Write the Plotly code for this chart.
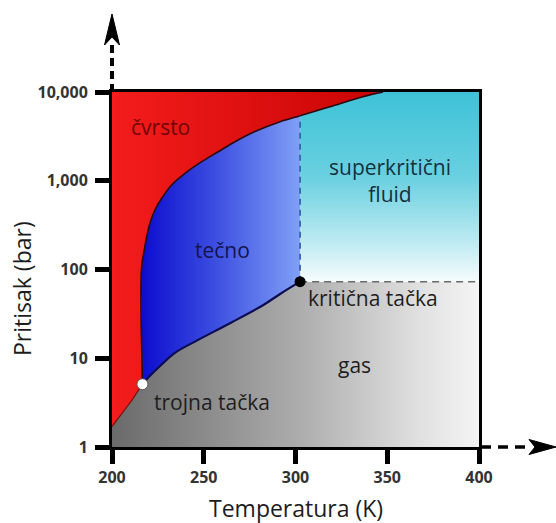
import numpy as np
import plotly.graph_objects as go

# Phase boundaries of CO2 (temperature in K, pressure in bar)
SUBL_T = [200.0, 206.0, 211.0, 216.6]
SUBL_P = [1.7, 2.5, 3.4, 5.1]

MELT_T = [216.6, 216.0, 215.8, 216.2, 217.6, 218.9, 220.7, 223.4, 227.1, 232.5,
          239.8, 248.9, 257.9, 267.0, 277.9, 291.6, 302.5, 318.8, 336.8, 347.7]
MELT_P = [5.1, 20, 60, 110, 166, 234, 332, 468, 634, 896,
          1213, 1640, 2124, 2754, 3590, 4630, 5410, 6830, 8850, 10000]

VAP_T = [216.6, 220.7, 226.2, 234.3, 246.2, 264.3, 282.5, 291.6, 302.5]
VAP_P = [5.1, 6.34, 8.18, 11.5, 15.8, 24.8, 39.8, 53.0, 72.9]

TRIPLE = (216.6, 5.1)
CRITICAL = (302.5, 72.9)

T_MIN, T_MAX = 200, 400
P_MIN, P_MAX = 1, 10000

X_TICKS = [200, 250, 300, 350, 400]
Y_TICKS = [1, 10, 100, 1000, 10000]
Y_TICK_TEXT = ["1", "10", "100", "1,000", "10,000"]

W, H = 556, 523
ML, MR, MT, MB = 112, 77, 92, 76
PW, PH = W - ML - MR, H - MT - MB

sub_t, sub_p = np.array(SUBL_T), np.array(SUBL_P)
mel_t, mel_p = np.array(MELT_T), np.array(MELT_P)
vap_t, vap_p = np.array(VAP_T), np.array(VAP_P)
k = int(np.argmin(np.abs(mel_t - CRITICAL[0])))  # melting point above the critical temperature

fig = go.Figure()


def region(xs, ys, kind, scale):
    fig.add_trace(go.Scatter(
        x=xs, y=ys, mode="lines", fill="toself", line=dict(width=0),
        fillgradient=dict(type=kind, colorscale=scale),
        hoverinfo="skip", showlegend=False))


# gas
region(np.concatenate([[T_MIN, T_MIN], sub_t, vap_t[1:], [T_MAX, T_MAX]]),
       np.concatenate([[P_MIN, sub_p[0]], sub_p, vap_p[1:], [CRITICAL[1], P_MIN]]),
       "horizontal", [[0, "#6a6a6a"], [0.5, "#ababab"], [0.85, "#e2e2e2"], [1, "#f4f4f4"]])

# liquid
region(np.concatenate([mel_t[:k + 1], [CRITICAL[0]], vap_t[::-1]]),
       np.concatenate([mel_p[:k + 1], [CRITICAL[1]], vap_p[::-1]]),
       "horizontal", [[0, "#0c0cce"], [0.45, "#3a4ce0"], [1, "#80a0f6"]])

# supercritical fluid
region(np.concatenate([[CRITICAL[0]], mel_t[k:], [T_MAX, T_MAX]]),
       np.concatenate([[CRITICAL[1]], mel_p[k:], [P_MAX, CRITICAL[1]]]),
       "vertical", [[0, "#f6fcfd"], [0.2, "#c0ebf3"], [0.55, "#6ad0e0"], [1, "#3ec2d7"]])

# solid
region(np.concatenate([[T_MIN], sub_t, mel_t[1:], [T_MIN]]),
       np.concatenate([[sub_p[0]], sub_p, mel_p[1:], [P_MAX]]),
       "horizontal", [[0, "#f41c1c"], [1, "#c80404"]])

# boundary curves
fig.add_trace(go.Scatter(x=sub_t, y=sub_p, mode="lines",
                         line=dict(color="#7a1010", width=1.2),
                         hoverinfo="skip", showlegend=False))
fig.add_trace(go.Scatter(x=mel_t, y=mel_p, mode="lines", line_shape="spline",
                         line=dict(color="#2a0a10", width=1.6),
                         hoverinfo="skip", showlegend=False))
fig.add_trace(go.Scatter(x=vap_t, y=vap_p, mode="lines", line_shape="spline",
                         line=dict(color="#0c0c55", width=2.2),
                         hoverinfo="skip", showlegend=False))

# dashed limits of the supercritical region
fig.add_trace(go.Scatter(x=[CRITICAL[0], CRITICAL[0]], y=[CRITICAL[1], mel_p[k]],
                         mode="lines", line=dict(color="#2f5aa8", width=1.6, dash="6px,5px"),
                         hoverinfo="skip", showlegend=False))
fig.add_trace(go.Scatter(x=[CRITICAL[0], T_MAX], y=[CRITICAL[1], CRITICAL[1]],
                         mode="lines", line=dict(color="#6a6a6a", width=1.6, dash="7px,5px"),
                         hoverinfo="skip", showlegend=False))

# triple and critical points
fig.add_trace(go.Scatter(x=[TRIPLE[0]], y=[TRIPLE[1]], mode="markers",
                         marker=dict(size=11, color="white", line=dict(color="#555", width=1)),
                         hoverinfo="skip", showlegend=False))
fig.add_trace(go.Scatter(x=[CRITICAL[0]], y=[CRITICAL[1]], mode="markers",
                         marker=dict(size=11, color="black"),
                         hoverinfo="skip", showlegend=False))

label_font = dict(family="Open Sans", size=21)


def label(t, p, text, color):
    fig.add_annotation(x=t, y=np.log10(p), xref="x", yref="y", text=text,
                       showarrow=False, font=dict(color=color, **label_font))


label(226.5, 4030, "čvrsto", "#6e0606")
label(260.0, 166, "tečno", "#14144e")
label(351.5, 1000, "superkritični<br>fluid", "#14323e")
label(342.2, 47.7, "kritična tačka", "#1e1e1e")
label(332.4, 8.4, "gas", "#1e1e1e")
label(254.5, 3.21, "trojna tačka", "#1e1e1e")


def px(xp, yp):
    """Pixel position on the page -> paper coordinates."""
    return (xp - ML) / PW, (H - MB - yp) / PH


# axis titles
title_font = dict(family="Open Sans", size=23, color="#1c1c1c")
tx, ty = px(296, 508)
fig.add_annotation(x=tx, y=ty, xref="paper", yref="paper", text="Temperatura (K)",
                   xanchor="center", yanchor="middle", showarrow=False, font=title_font)
tx, ty = px(22, 289)
fig.add_annotation(x=tx, y=ty, xref="paper", yref="paper", text="Pritisak (bar)",
                   xanchor="center", yanchor="middle", textangle=-90,
                   showarrow=False, font=title_font)

# dashed axis extensions ending in arrowheads
x0, y0 = px(112, 92)
x1, y1 = px(112, 44)
fig.add_shape(type="line", xref="paper", yref="paper", x0=x0, y0=y0, x1=x1, y1=y1,
              line=dict(color="black", width=4, dash="8px,5px"))
a = [px(112, 14), px(104.5, 45), px(112, 37), px(119.5, 45)]
fig.add_shape(type="path", xref="paper", yref="paper",
              path="M{} {} L{} {} L{} {} L{} {} Z".format(*[v for q in a for v in q]),
              fillcolor="black", line=dict(color="black", width=1))

x0, y0 = px(481, 447)
x1, y1 = px(530, 447)
fig.add_shape(type="line", xref="paper", yref="paper", x0=x0, y0=y0, x1=x1, y1=y1,
              line=dict(color="black", width=3.5, dash="10px,7px"))
a = [px(556, 447), px(529, 439.5), px(535, 447), px(529, 454.5)]
fig.add_shape(type="path", xref="paper", yref="paper",
              path="M{} {} L{} {} L{} {} L{} {} Z".format(*[v for q in a for v in q]),
              fillcolor="black", line=dict(color="black", width=1))

tick_font = dict(family="Open Sans", size=16, color="#333333", weight="bold")

fig.update_xaxes(range=[T_MIN, T_MAX], tickvals=X_TICKS, ticks="outside", ticklen=14,
                 tickwidth=5, tickcolor="black", showline=True, linewidth=3,
                 linecolor="black", mirror=True, showgrid=False, zeroline=False,
                 tickfont=tick_font, ticklabelstandoff=0)
fig.update_yaxes(type="log", range=[np.log10(P_MIN), np.log10(P_MAX)], tickvals=Y_TICKS,
                 ticktext=Y_TICK_TEXT, ticks="outside", ticklen=14, tickwidth=5,
                 tickcolor="black", showline=True, linewidth=3, linecolor="black",
                 mirror=True, showgrid=False, zeroline=False, tickfont=tick_font,
                 ticklabelstandoff=4)

fig.update_layout(width=W, height=H, margin=dict(l=ML, r=MR, t=MT, b=MB),
                  paper_bgcolor="white", plot_bgcolor="white", showlegend=False)

fig.write_html("out.html")
